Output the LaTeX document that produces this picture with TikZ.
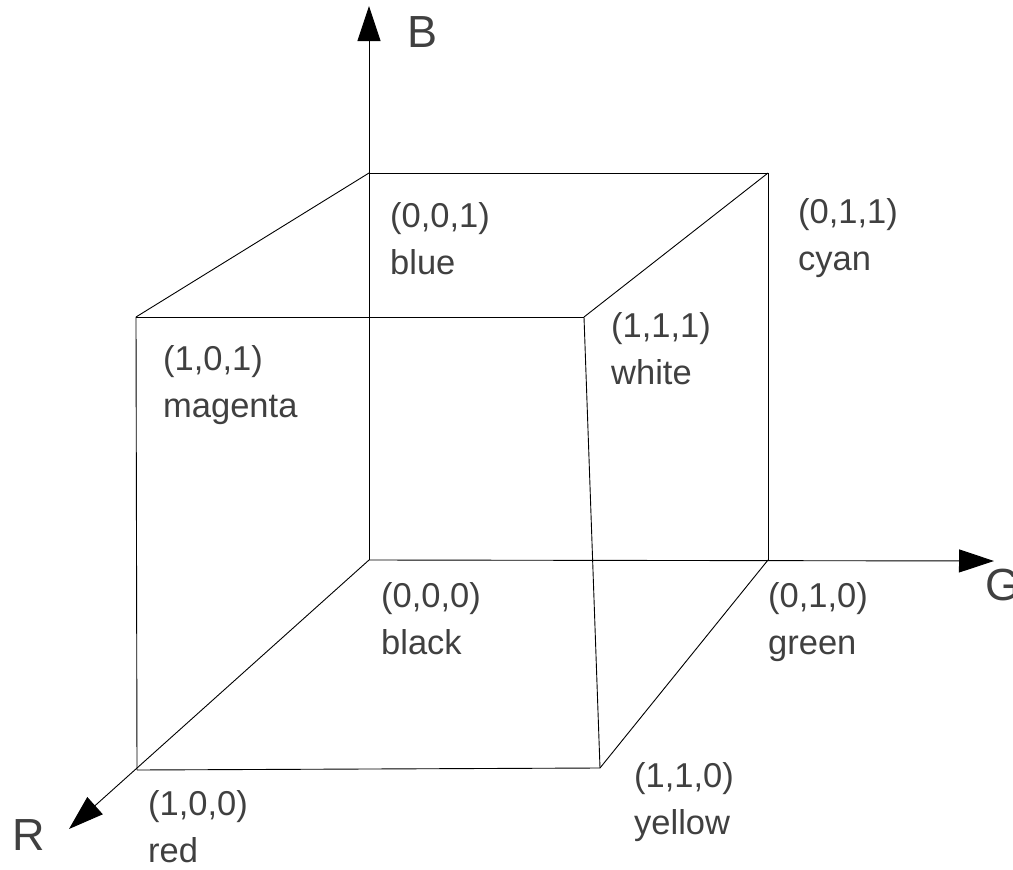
\documentclass[tikz,border=0pt]{standalone}
\usepackage{fontspec}
\setmainfont{Liberation Sans}
\usetikzlibrary{arrows.meta}
\definecolor{txt}{HTML}{404040}
\begin{document}
\begin{tikzpicture}[x=1pt,y=-1pt,
  edge/.style={line width=0.9pt,black},
  axis/.style={line width=0.9pt,black,-{Triangle[length=35pt,width=23pt]}},
  lbl/.style={anchor=base west,inner sep=0pt,align=left,text=txt,
    font=\fontsize{34.5}{47}\selectfont},
  axlbl/.style={anchor=base west,inner sep=0pt,text=txt,
    font=\fontsize{45}{50}\selectfont}]
\useasboundingbox (0,0) rectangle (1013,870);
% corners
\coordinate (k) at (369,560);
\coordinate (b) at (369,173);
\coordinate (c) at (768,173);
\coordinate (g) at (768,560);
\coordinate (m) at (136,317);
\coordinate (w) at (584,317);
\coordinate (r) at (137,770);
\coordinate (y) at (600,768);
\coordinate (Btip) at (369,6);
\coordinate (Gtip) at (994,561);
\coordinate (Rtip) at (69,829);
% axes
\draw[axis] (k) -- (Btip);
\draw[axis] (k) -- (Gtip);
\draw[axis] (k) -- (Rtip);
% cube edges
\draw[edge] (b) -- (c);
\draw[edge] (b) -- (m);
\draw[edge] (c) -- (w);
\draw[edge] (m) -- (w);
\draw[edge] (m) -- (r);
\draw[edge] (w) -- (y);
\draw[edge] (r) -- (y);
\draw[edge] (y) -- (g);
\draw[edge] (c) -- (g);
% axis labels
\node[axlbl] (lB) at (407,47) {B};
\node[axlbl] (lG) at (985,600) {G};
\node[axlbl] (lR) at (12,850) {R};
% corner labels (anchor = baseline of second line)
\node[lbl] (lblue) at (390,274) {(0,0,1)\\blue};
\node[lbl] (lcyan) at (798,270) {(0,1,1)\\cyan};
\node[lbl] (lwhite) at (611,384) {(1,1,1)\\white};
\node[lbl] (lmagenta) at (163,417) {(1,0,1)\\magenta};
\node[lbl] (lblack) at (381,654) {(0,0,0)\\black};
\node[lbl] (lgreen) at (768,654) {(0,1,0)\\green};
\node[lbl] (lred) at (148,862) {(1,0,0)\\red};
\node[lbl] (lyellow) at (634,834) {(1,1,0)\\yellow};
\end{tikzpicture}
\end{document}
